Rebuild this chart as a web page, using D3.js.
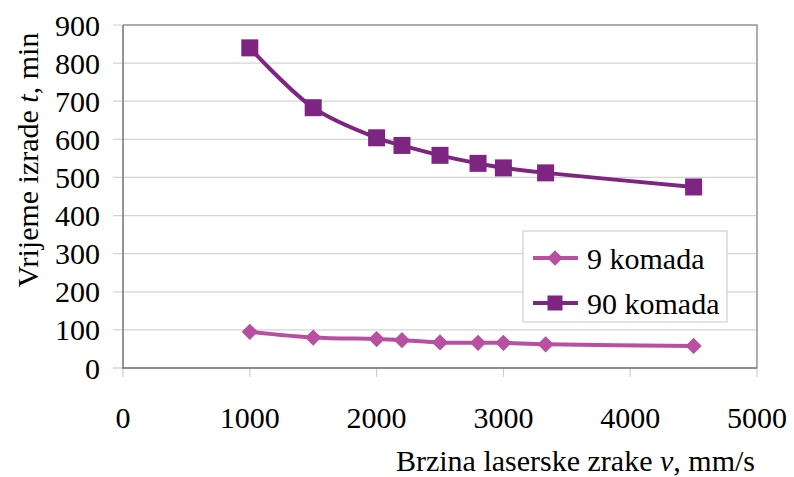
<!DOCTYPE html>
<html><head><meta charset="utf-8">
<script src="https://cdn.jsdelivr.net/npm/d3@7"></script>
</head>
<body style="margin:0;padding:0;background:#fff">
<svg id="c" width="794" height="477" style="display:block" font-family="Liberation Serif"></svg>
<script>
const speeds = [1000, 1500, 2000, 2200, 2500, 2800, 3000, 3333, 4500];
const series9 = [95, 80, 76, 73, 67, 66, 66, 62, 58];
const series90 = [840, 683, 604, 584, 558, 537, 525, 512, 475];
const seriesNames = ["9 komada", "90 komada"];
const xTicks = [0, 1000, 2000, 3000, 4000, 5000];
const yTicks = [0, 100, 200, 300, 400, 500, 600, 700, 800, 900];
const colors = ["#b94fa0", "#7d2580"];

const svg = d3.select("#c");
const L = 123, R = 757, T = 25, B = 368;
const x = d3.scaleLinear().domain([0, 5000]).range([L, R]);
const y = d3.scaleLinear().domain([0, 900]).range([B, T]);
const fs = 30;
const FF = '"Liberation Serif", "Times New Roman", Tinos, serif';
const serif = sel => sel.attr("font-family", "Liberation Serif").style("font-family", FF, "important");

// gridlines with left ticks
svg.append("g").selectAll("line").data(yTicks.filter(d => d > 0)).join("line")
  .attr("x1", L - 10).attr("x2", R).attr("y1", d => y(d)).attr("y2", d => y(d))
  .attr("stroke", "#d4d4d4").attr("stroke-width", 1.2);
svg.append("line").attr("x1", L - 10).attr("x2", L).attr("y1", B).attr("y2", B)
  .attr("stroke", "#c8c8c8").attr("stroke-width", 1.2);
// x ticks
svg.append("g").selectAll("line").data(xTicks).join("line")
  .attr("x1", d => x(d)).attr("x2", d => x(d)).attr("y1", B).attr("y2", B + 9)
  .attr("stroke", "#cfcfcf").attr("stroke-width", 1.2);
// frame
svg.append("path").attr("d", `M${L},${T}H${R}V${B}`).attr("fill", "none")
  .attr("stroke", "#9a9a9a").attr("stroke-width", 1.6);
svg.append("path").attr("d", `M${L},${T}V${B}H${R}`).attr("fill", "none")
  .attr("stroke", "#6a6a6a").attr("stroke-width", 1.4);

// tick labels
svg.append("g").selectAll("text").data(yTicks).join("text")
  .attr("x", 100).attr("y", d => y(d) + fs * 0.35).call(serif)
  .attr("text-anchor", "end").attr("font-size", fs).text(d => d);
svg.append("g").selectAll("text").data(xTicks).join("text")
  .attr("x", d => x(d)).attr("y", 428).call(serif)
  .attr("text-anchor", "middle").attr("font-size", fs).text(d => d);

// axis titles
const xt = svg.append("text").attr("x", 755).attr("y", 471).attr("text-anchor", "end")
  .call(serif).attr("font-size", fs);
xt.append("tspan").call(serif).text("Brzina laserske zrake ");
xt.append("tspan").call(serif).style("font-style", "italic").text("v");
xt.append("tspan").call(serif).text(", mm/s");
const yt = svg.append("text").attr("transform", "translate(38,160) rotate(-90)")
  .call(serif).attr("text-anchor", "middle").attr("font-size", fs);
yt.append("tspan").call(serif).text("Vrijeme izrade ");
yt.append("tspan").call(serif).style("font-style", "italic").text("t");
yt.append("tspan").call(serif).text(", min");

// lines
const line = d3.line().x(d => x(d[0])).y(d => y(d[1])).curve(d3.curveCatmullRom.alpha(0.5));
const data9 = speeds.map((s, i) => [s, series9[i]]);
const data90 = speeds.map((s, i) => [s, series90[i]]);
svg.append("path").datum(data9).attr("d", line).attr("fill", "none")
  .attr("stroke", colors[0]).attr("stroke-width", 4);
svg.append("path").datum(data90).attr("d", line).attr("fill", "none")
  .attr("stroke", colors[1]).attr("stroke-width", 4);

const dm = 11.5;
svg.append("g").selectAll("rect").data(data9).join("rect")
  .attr("transform", d => `translate(${x(d[0])},${y(d[1])}) rotate(45)`)
  .attr("x", -dm / 2).attr("y", -dm / 2).attr("width", dm).attr("height", dm)
  .attr("fill", colors[0]);
const sq = 17;
svg.append("g").selectAll("rect").data(data90).join("rect")
  .attr("x", d => x(d[0]) - sq / 2).attr("y", d => y(d[1]) - sq / 2)
  .attr("width", sq).attr("height", sq).attr("fill", colors[1]);

// legend
const lg = svg.append("g");
lg.append("rect").attr("x", 523).attr("y", 231).attr("width", 204).attr("height", 91)
  .attr("fill", "#fff").attr("stroke", "#cfcfcf").attr("stroke-width", 1.2);
const rows = [258, 303];
seriesNames.forEach((n, i) => {
  lg.append("line").attr("x1", 533).attr("x2", 578).attr("y1", rows[i]).attr("y2", rows[i])
    .attr("stroke", colors[i]).attr("stroke-width", 4);
  if (i === 0) {
    lg.append("rect").attr("transform", `translate(555,${rows[i]}) rotate(45)`)
      .attr("x", -5.5).attr("y", -5.5).attr("width", 11).attr("height", 11).attr("fill", colors[i]);
  } else {
    lg.append("rect").attr("x", 555 - 7.5).attr("y", rows[i] - 7.5).attr("width", 15).attr("height", 15)
      .attr("fill", colors[i]);
  }
  lg.append("text").attr("x", 587).attr("y", rows[i] + fs * 0.35).call(serif)
    .attr("font-size", fs).text(n);
});
</script>
</body></html>
